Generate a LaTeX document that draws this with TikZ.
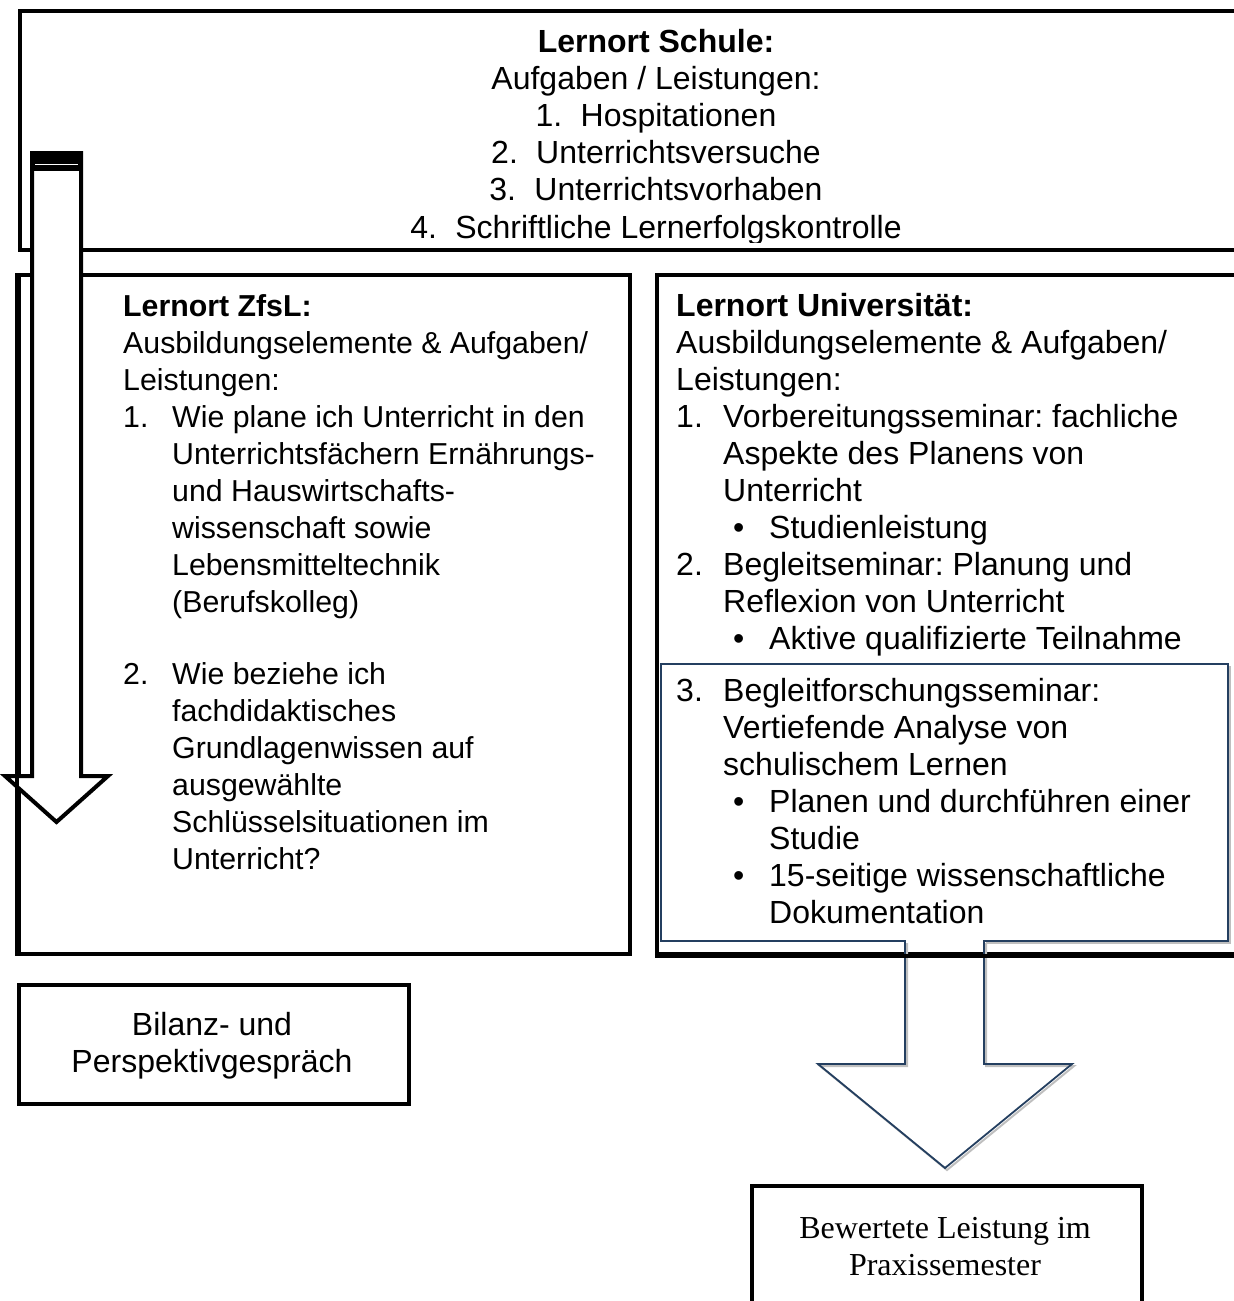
\documentclass[tikz,border=0pt]{standalone}
\usepackage{fontspec}
\setmainfont{Liberation Sans}
\newfontfamily\timesf{Liberation Serif}
\definecolor{navy}{HTML}{243F60}
\newcommand{\tline}[4]{\node[txt, anchor=base west] (#1) at (#2,#3) {#4};}
\newcommand{\uline}[4]{\node[utxt, anchor=base west] (#1) at (#2,#3) {#4};}
\newcommand{\ctline}[4]{\node[utxt, anchor=base] (#1) at (#2,#3) {#4};}
\begin{document}
\frenchspacing
\begin{tikzpicture}[x=1pt,y=-1pt,
  txt/.style={inner sep=0pt, font=\fontsize{30.3}{37}\selectfont\frenchspacing},
  utxt/.style={inner sep=0pt, font=\fontsize{32}{37}\selectfont\frenchspacing},
  box/.style={draw=black, line width=4pt, inner sep=0pt, anchor=north west},
  bluebox/.style={draw=navy, line width=1.8pt, line join=miter},
  shadowline/.style={draw=black!25, line width=2pt, line join=miter}]
\useasboundingbox (0,0) rectangle (1234,1301);

% boxes
\node[box, minimum width=1233pt, minimum height=239pt] (schule) at (18,9) {};
\node[box, minimum width=611pt, minimum height=679pt] (zfsl) at (17,273) {};
\node[box, minimum width=600pt, minimum height=679pt] (uni) at (655,273) {};
\node[box, minimum width=390pt, minimum height=119pt] (bilanz) at (17,983) {};
\node[box, minimum width=390pt, minimum height=150pt] (bewertet) at (750,1184) {};

% top text (clipped by the box bottom)
\begin{scope}
\clip (18,9) rectangle (1250,242);
\ctline{s0}{656}{52}{\textbf{Lernort Schule:}}
\ctline{s1}{656}{89}{Aufgaben / Leistungen:}
\ctline{s2}{656}{126}{\makebox[45pt][l]{1.}Hospitationen}
\ctline{s3}{656}{163}{\makebox[45pt][l]{2.}Unterrichtsversuche}
\ctline{s4}{656}{200}{\makebox[45pt][l]{3.}Unterrichtsvorhaben}
\ctline{s5}{656}{238}{\makebox[45pt][l]{4.}Schriftliche Lernerfolgskontrolle}
\end{scope}

% ZfsL text
\tline{z0}{123}{316}{\textbf{Lernort ZfsL:}}
\tline{z1}{123}{353}{Ausbildungselemente \& Aufgaben/}
\tline{z2}{123}{390}{Leistungen:}
\tline{z3}{123}{427}{\makebox[49pt][l]{1.}Wie plane ich Unterricht in den}
\tline{z4}{172}{464}{Unterrichtsfächern Ernährungs-}
\tline{z5}{172}{501}{und Hauswirtschafts-}
\tline{z6}{172}{538}{wissenschaft sowie}
\tline{z7}{172}{575}{Lebensmitteltechnik}
\tline{z8}{172}{612}{(Berufskolleg)}
\tline{z9}{123}{684}{\makebox[49pt][l]{2.}Wie beziehe ich}
\tline{z10}{172}{721}{fachdidaktisches}
\tline{z11}{172}{758}{Grundlagenwissen auf}
\tline{z12}{172}{795}{ausgewählte}
\tline{z13}{172}{832}{Schlüsselsituationen im}
\tline{z14}{172}{869}{Unterricht?}

% blue box with arrow (shadow first)
\draw[shadowline] (986,943) -- (1230,943) -- (1230,666);
\draw[shadowline] (907,943) -- (907,1066) -- (820,1066) -- (947,1170) -- (1074,1066) -- (986,1066) -- (986,943);
\draw[bluebox] (984,941) -- (1228,941) -- (1228,664) -- (661,664) -- (661,941) -- (905,941)
  -- (905,1064) -- (818,1064) -- (945,1168) -- (1072,1064) -- (984,1064) -- cycle;
% bottom edge of the university box runs across the arrow shaft
\draw[line width=4pt] (uni.south west) -- ([xshift=20pt]uni.south east);

% University text
\uline{u0}{676}{316}{\textbf{Lernort Universität:}}
\uline{u1}{676}{353}{Ausbildungselemente \& Aufgaben/}
\uline{u2}{676}{390}{Leistungen:}
\uline{u3}{676}{427}{\makebox[47pt][l]{1.}Vorbereitungsseminar: fachliche}
\uline{u4}{723}{464}{Aspekte des Planens von}
\uline{u5}{723}{501}{Unterricht}
\uline{u6}{733}{538}{\makebox[36pt][l]{•}Studienleistung}
\uline{u7}{676}{575}{\makebox[47pt][l]{2.}Begleitseminar: Planung und}
\uline{u8}{723}{612}{Reflexion von Unterricht}
\uline{u9}{733}{649}{\makebox[36pt][l]{•}Aktive qualifizierte Teilnahme}
\uline{u10}{676}{701}{\makebox[47pt][l]{3.}Begleitforschungsseminar:}
\uline{u11}{723}{738}{Vertiefende Analyse von}
\uline{u12}{723}{775}{schulischem Lernen}
\uline{u13}{733}{812}{\makebox[36pt][l]{•}Planen und durchführen einer}
\uline{u14}{769}{849}{Studie}
\uline{u15}{733}{886}{\makebox[36pt][l]{•}15-seitige wissenschaftliche}
\uline{u16}{769}{923}{Dokumentation}

% left arrow
\draw[line width=4pt, fill=white, line join=miter] (32,153) -- (81,153) -- (81,776) -- (108,776)
  -- (56.5,822) -- (5,776) -- (32,776) -- cycle;
\fill (30,151) rectangle (83,171);
\draw[white, line width=1pt] (35,164) -- (78,164);
\draw[line width=4pt] (zfsl.north west) -- (zfsl.south west);

% bottom boxes text
\ctline{b1}{212}{1035}{Bilanz- und}
\ctline{b2}{212}{1072}{Perspektivgespräch}
\node[inner sep=0pt, anchor=base, font=\timesf\fontsize{32}{37}\selectfont] (w1) at (945,1238) {Bewertete Leistung im};
\node[inner sep=0pt, anchor=base, font=\timesf\fontsize{32}{37}\selectfont] (w2) at (945,1275) {Praxissemester};
\end{tikzpicture}
\end{document}
